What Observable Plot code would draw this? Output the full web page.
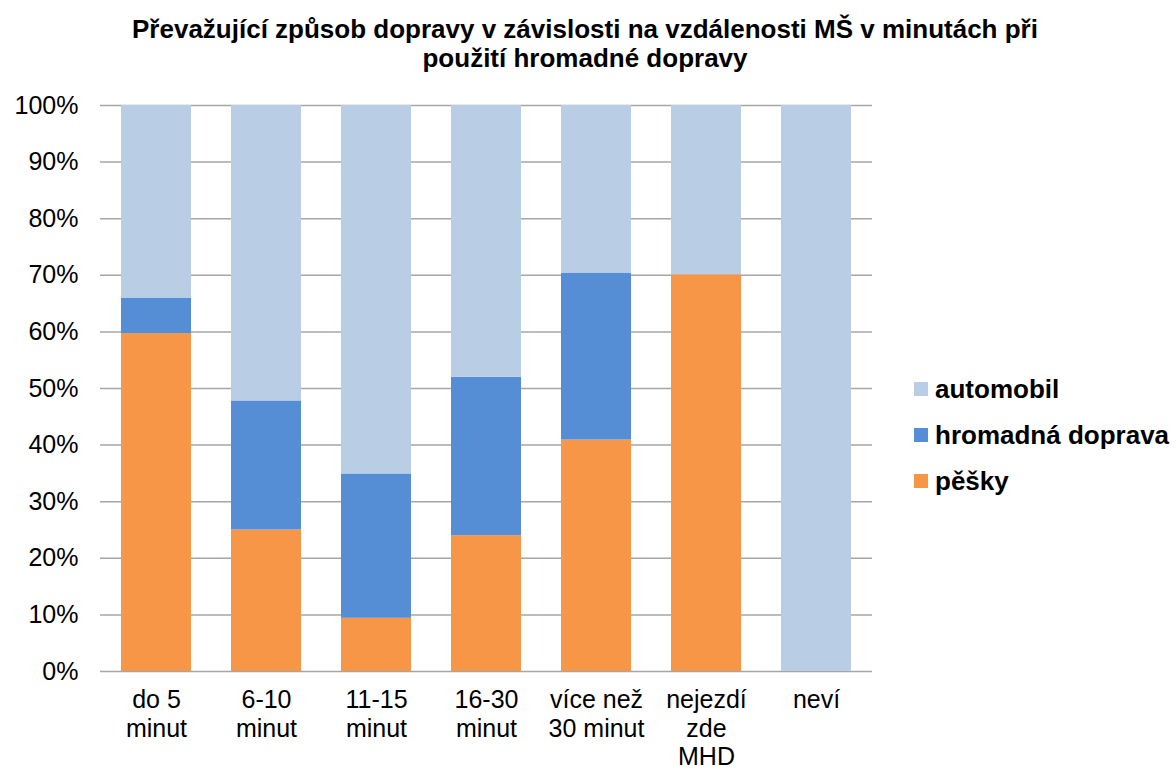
<!DOCTYPE html>
<html>
<head>
<meta charset="utf-8">
<script src="https://cdn.jsdelivr.net/npm/d3@7"></script>
<script src="https://cdn.jsdelivr.net/npm/@observablehq/plot@0.6"></script>
<style>
  body { margin: 0; background: #fff; font-family: "Liberation Sans", Arial, sans-serif; }
  #wrap { position: relative; width: 1176px; height: 773px; }
  #title { position: absolute; left: 0; top: 15px; width: 1170px; text-align: center; font-weight: bold; font-size: 26px; line-height: 29px; color: #000; }
  #legend { position: absolute; left: 914px; top: 366px; font-weight: bold; font-size: 26px; color: #000; }
  #legend .row { display: flex; align-items: center; height: 46px; white-space: nowrap; }
  #legend .sw { width: 14px; height: 14px; margin-right: 7px; }
  svg { position: absolute; left: 0; top: 0; }
</style>
</head>
<body>
<div id="wrap">
  <div id="title">Převažující způsob dopravy v závislosti na vzdálenosti MŠ v minutách při<br>použití hromadné dopravy</div>
  <div id="legend"></div>
</div>
<script>
const categories = ["do 5\nminut", "6-10\nminut", "11-15\nminut", "16-30\nminut", "více než\n30 minut", "nejezdí\nzde\nMHD", "neví"];
const series = ["pěšky", "hromadná doprava", "automobil"];
const colors = ["#f79646", "#558ed5", "#b9cde5"];
const peskyValues = [59.7, 25.0, 9.4, 24.0, 40.9, 70.1, 0];
const hromadnaValues = [6.2, 22.8, 25.5, 28.0, 29.5, 0, 0];
const automobilValues = [34.1, 52.2, 65.1, 48.0, 29.6, 29.9, 100];
const yTicks = [0, 10, 20, 30, 40, 50, 60, 70, 80, 90, 100];

const valuesBySeries = [peskyValues, hromadnaValues, automobilValues];
const data = [];
series.forEach((s, si) => categories.forEach((c, ci) => data.push({category: c, series: s, value: valuesBySeries[si][ci]})));

const chart = Plot.plot({
  width: 1176,
  height: 773,
  marginLeft: 100,
  marginRight: 304,
  marginTop: 105,
  marginBottom: 102,
  style: {fontFamily: "'Liberation Sans', Arial, sans-serif", fontSize: "25px", color: "#000", background: "transparent"},
  x: {domain: categories, paddingInner: 0.36, paddingOuter: 0.18, label: null},
  y: {domain: [0, 100], label: null},
  color: {domain: series, range: colors},
  marks: [
    Plot.ruleY(yTicks, {stroke: "#a6a6a6", strokeWidth: 1.5}),
    Plot.ruleX([0], {frameAnchor: "left", stroke: "#a6a6a6", strokeWidth: 1.5}),
    Plot.barY(data, Plot.stackY({x: "category", y: "value", fill: "series", order: series})),
    Plot.axisX({tickSize: 0, tickPadding: 16, lineHeight: 1.15, fontSize: 25, label: null}),
    Plot.axisY({ticks: yTicks, tickFormat: d => d + "%", tickSize: 0, tickPadding: 22, fontSize: 25, label: null})
  ]
});
document.getElementById("wrap").prepend(chart);

const legend = document.getElementById("legend");
[...series].reverse().forEach((s) => {
  const i = series.indexOf(s);
  const row = document.createElement("div");
  row.className = "row";
  const sw = document.createElement("div");
  sw.className = "sw";
  sw.style.background = colors[i];
  const t = document.createElement("span");
  t.textContent = s;
  row.appendChild(sw); row.appendChild(t);
  legend.appendChild(row);
});
</script>
</body>
</html>
